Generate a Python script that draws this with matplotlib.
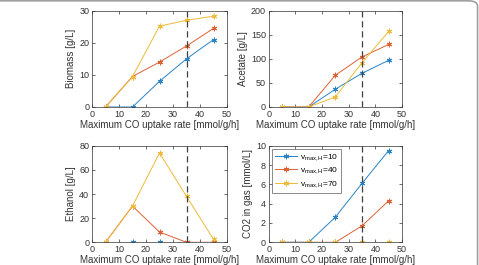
import matplotlib.pyplot as plt
from matplotlib.patches import FancyBboxPatch

plt.rcParams['font.family'] = ['Liberation Sans', 'DejaVu Sans']
plt.rcParams['mathtext.fontset'] = 'custom'
plt.rcParams['mathtext.rm'] = 'Liberation Sans'
plt.rcParams['mathtext.it'] = 'Liberation Sans'

co_rate = [5, 15, 25, 35, 45]
labels = [r'v$_{\mathrm{max,H}}$=10', r'v$_{\mathrm{max,H}}$=40', r'v$_{\mathrm{max,H}}$=70']
colors = ['#2a84c6', '#dc6236', '#eebb3a']

biomass = [[0, 0, 8, 15, 21],
           [0, 9.5, 14, 19, 24.5],
           [0, 9.5, 25.2, 27, 28.3]]
acetate = [[0, 0, 37, 70, 97],
           [0, 0, 66, 104, 130],
           [0, 0, 21, 92, 157]]
ethanol = [[0, 0, 0, 0, 0],
           [0, 30, 8.5, 0, 0],
           [0, 30, 74, 38, 2.5]]
co2 = [[0, 0, 2.6, 6.1, 9.5],
       [0, 0, 0, 1.7, 4.3],
       [0, 0, 0, 0, 0]]

panels = [(biomass, 'Biomass [g/L]', 30, [0, 10, 20, 30]),
          (acetate, 'Acetate [g/L]', 200, [0, 50, 100, 150, 200]),
          (ethanol, 'Ethanol [g/L]', 80, [0, 20, 40, 60, 80]),
          (co2, 'CO2 in gas [mmol/L]', 10, [0, 2, 4, 6, 8, 10])]

# axes boxes in pixels: left, right, top, bottom
boxes = [(92, 227, 10.7, 107), (268.7, 402, 10.7, 107),
         (92, 227, 145.7, 242.3), (268.7, 402, 145.7, 242.3)]

W, H = 479, 265
fig = plt.figure(figsize=(W / 100, H / 100), dpi=100)
txt = '#333333'

for i, (data, ylab, ymax, yt) in enumerate(panels):
    l, r, t, b = boxes[i]
    ax = fig.add_axes([l / W, 1 - b / H, (r - l) / W, (b - t) / H])
    for j in range(3):
        ax.plot(co_rate, data[j], '-', color=colors[j], lw=0.7,
                marker=(6, 2, 0), ms=4, mew=0.7, label=labels[j])
    ax.axvline(35, color='#404040', ls=(0, (5, 3)), lw=0.9)
    ax.set_xlim(0, 50)
    ax.set_ylim(0, ymax)
    ax.set_xticks([0, 10, 20, 30, 40, 50])
    ax.set_yticks(yt)
    ax.tick_params(labelsize=6.5, length=2, width=0.5, direction='in',
                   colors=txt, pad=2, top=True, right=True,
                   labeltop=False, labelright=False)
    for s in ax.spines.values():
        s.set_linewidth(0.5)
        s.set_color(txt)
    ax.set_xlabel('Maximum CO uptake rate [mmol/g/h]', fontsize=7, labelpad=1, color=txt)
    ax.set_ylabel(ylab, fontsize=7, labelpad=2, color=txt)
    if i == 3:
        leg = ax.legend(loc='upper left', fontsize=6, frameon=True, fancybox=False,
                        edgecolor=txt, handlelength=2.6, borderpad=0.35,
                        labelspacing=0.3, handletextpad=0.4, borderaxespad=0.4)
        leg.get_frame().set_linewidth(0.5)

# journal frame
frame = FancyBboxPatch((-0.1, -0.1), 1.097, 1.097,
                       boxstyle='round,pad=0,rounding_size=0.02',
                       transform=fig.transFigure, fill=False,
                       edgecolor='#a0a0a0', lw=1.2, clip_on=False)
fig.patches.append(frame)

fig.savefig('out.png', dpi=100)
